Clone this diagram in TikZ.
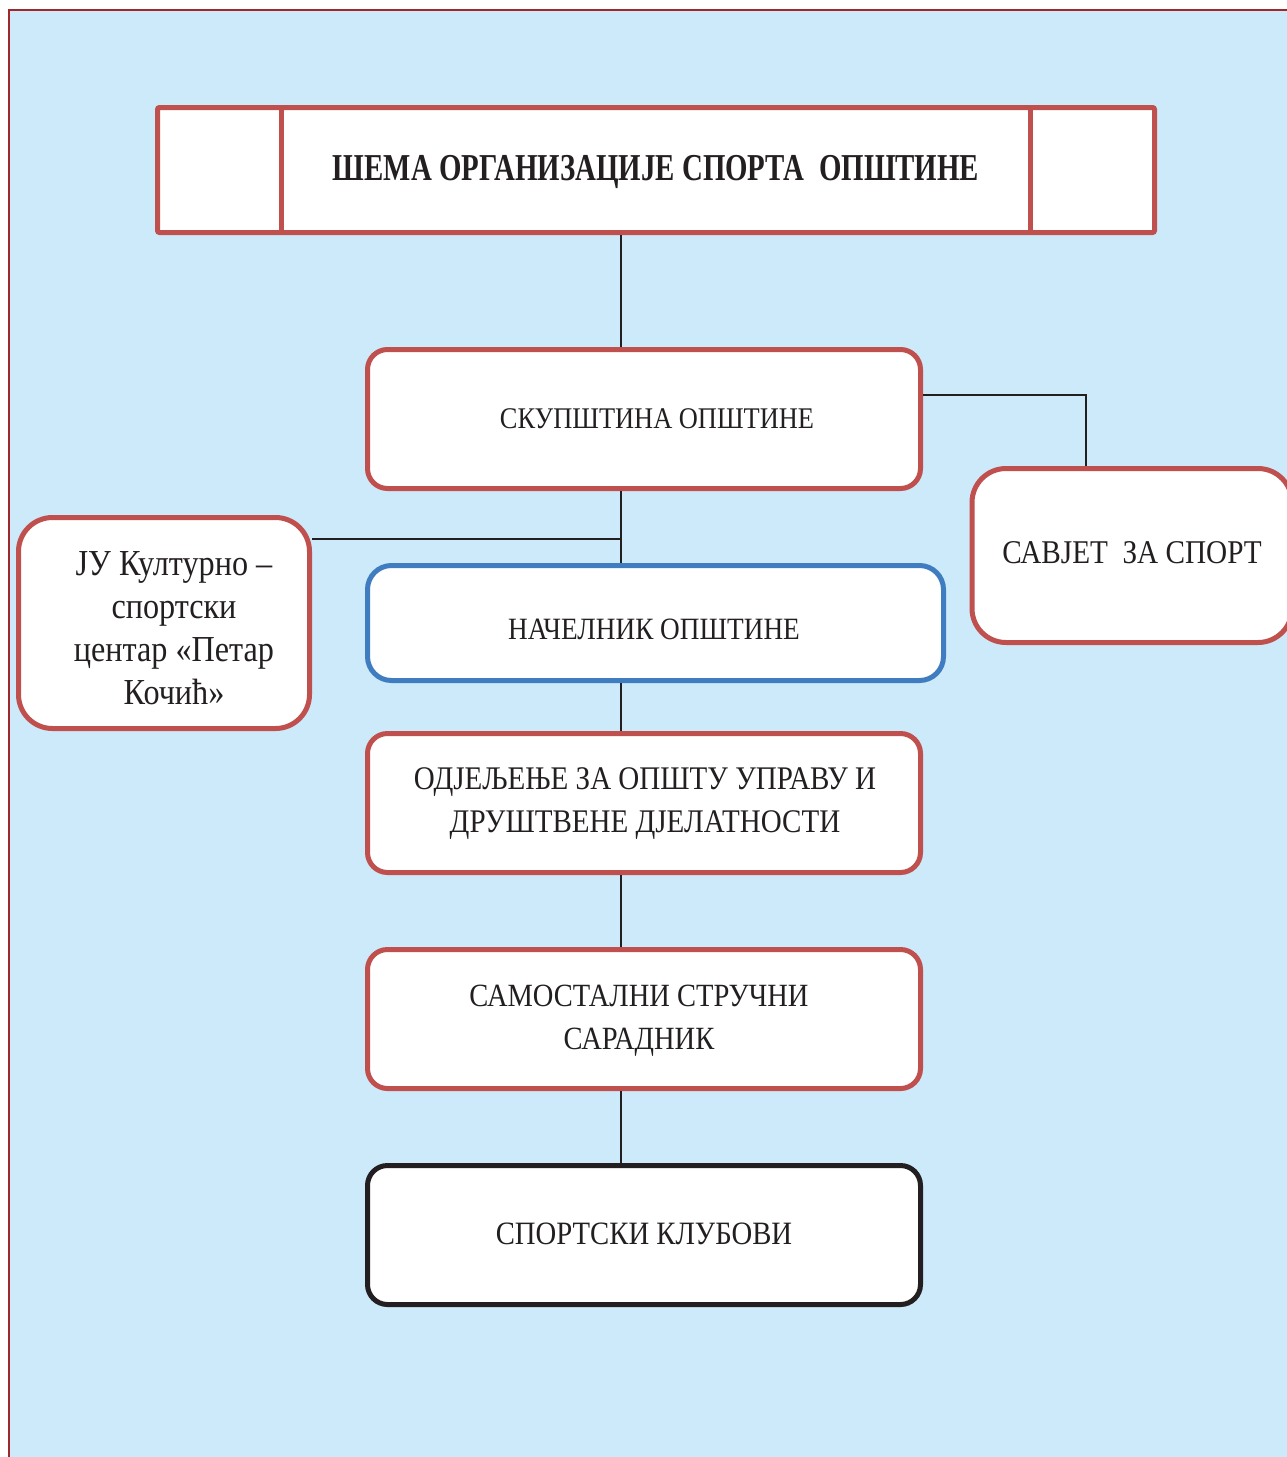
\documentclass[tikz,border=0pt]{standalone}
\usepackage{fontspec}
\setmainfont{Liberation Serif}
\newfontfamily\boxfont[FakeStretch=0.88]{Liberation Serif}
\newfontfamily\titlefont[FakeStretch=0.76]{Liberation Serif}
\definecolor{bgblue}{HTML}{CCEAFA}
\definecolor{framered}{HTML}{A0282A}
\definecolor{boxred}{HTML}{C0504D}
\definecolor{boxblue}{HTML}{3F7DC0}
\definecolor{boxblack}{HTML}{231F20}
\definecolor{txt}{HTML}{231F20}
\tikzset{
  orgbox/.style={draw=boxred, fill=white, line width=2.5pt, rounded corners=10pt,
    inner sep=0pt},
  bigbox/.style={orgbox, rounded corners=17pt},
  boxtext/.style={text=txt, align=center, inner sep=0pt,
    font=\boxfont\fontsize{#1}{21.5}\selectfont},
  conn/.style={draw=boxblack, line width=1pt},
}
\begin{document}
\begin{tikzpicture}[x=0.5pt,y=-0.5pt]
\useasboundingbox (0,0) rectangle (1286,1457);
\fill[bgblue] (9,10) rectangle (1310,1470);
\draw[framered, line width=1pt] (9,1470) -- (9,10) -- (1310,10);

% spine coordinates
\coordinate (spine) at (621,0);
\coordinate (bend) at (1086,395);
\coordinate (jj) at (621,539);

% title
\node[draw=boxred, fill=white, line width=2.5pt, rounded corners=1pt, inner sep=0pt,
  minimum width=498.5pt, minimum height=62.5pt] (title) at (656,170) {};
\draw[boxred, line width=2.5pt] (281,107.5) -- (281,232.5) (1030,107.5) -- (1030,232.5);
\node[text=txt, font=\titlefont\bfseries\fontsize{19}{22}\selectfont] (titletext) at (656,172)
  {ШЕМА ОРГАНИЗАЦИЈЕ СПОРТА\ \ ОПШТИНЕ};

% boxes
\node[orgbox, minimum width=276.5pt, minimum height=69.5pt] (skup) at (644,419) {};
\node[boxtext=15] (skupt) at (657,419) {СКУПШТИНА ОПШТИНЕ};

\node[bigbox, minimum width=160pt, minimum height=87pt] (savjet) at (1132,555.5) {};
\node[boxtext=16.6] (savjett) at (1132,553) {САВЈЕТ\ \ ЗА СПОРТ};

\node[bigbox, minimum width=145.5pt, minimum height=105.5pt] (ju) at (164,623) {};
\node[boxtext=18.3] (jut) at (174,628)
  {ЈУ Културно –\\спортски\\центар «Петар\\Кочић»};

\node[orgbox, draw=boxblue, rounded corners=12pt, minimum width=288pt, minimum height=57.5pt] (nac) at (655.5,623) {};
\node[boxtext=15.5] (nact) at (654,629) {НАЧЕЛНИК ОПШТИНЕ};

\node[orgbox, minimum width=276.5pt, minimum height=69.5pt] (odj) at (644,803) {};
\node[boxtext=16.5] (odjt) at (645,804)
  {ОДЈЕЉЕЊЕ ЗА ОПШТУ УПРАВУ И\\ДРУШТВЕНЕ ДЈЕЛАТНОСТИ};

\node[orgbox, minimum width=276.5pt, minimum height=69.5pt] (sam) at (644,1019) {};
\node[boxtext=16.2] (samt) at (639,1021)
  {САМОСТАЛНИ СТРУЧНИ\\САРАДНИК};

\node[orgbox, draw=boxblack, minimum width=276.5pt, minimum height=69.5pt] (klub) at (644,1235) {};
\node[boxtext=16.3] (klubt) at (644,1234) {СПОРТСКИ КЛУБОВИ};

% connectors
\draw[conn] (title.south -| spine) -- (skup.north -| spine);
\draw[conn] (skup.east |- bend) -- (bend) -- (savjet.north -| bend);
\draw[conn] (skup.south -| spine) -- (nac.north -| spine);
\draw[conn] (ju.east |- jj) -- (jj);
\draw[conn] (nac.south -| spine) -- (odj.north -| spine);
\draw[conn] (odj.south -| spine) -- (sam.north -| spine);
\draw[conn] (sam.south -| spine) -- (klub.north -| spine);
\end{tikzpicture}
\end{document}
